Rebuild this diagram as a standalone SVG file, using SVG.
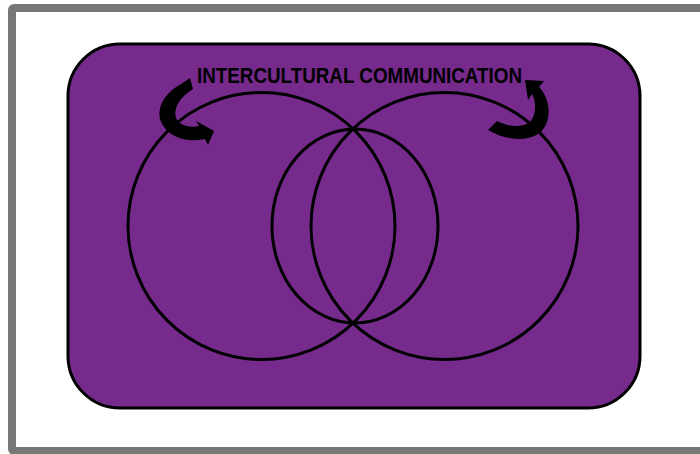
<svg xmlns="http://www.w3.org/2000/svg" width="700" height="454" viewBox="0 0 700 454">
<style>
.ring{fill:none;stroke:#000;stroke-width:3}
.arr{fill:#000;stroke:none}
.title{font-family:"Liberation Sans",Arial,sans-serif;font-weight:bold;font-size:22.5px;fill:#000}
</style>
<rect x="0" y="0" width="700" height="454" fill="#fff"/>
<rect id="frame" x="12" y="8" width="700" height="443" rx="2" fill="#fff" stroke="#777" stroke-width="8"/>
<g id="panel">
<rect x="68" y="44" width="572" height="364" rx="52" fill="#752a8c" stroke="#000" stroke-width="3"/>
</g>
<g id="circle-left"><circle class="ring" cx="261.5" cy="226" r="133.5"/></g>
<g id="circle-right"><circle class="ring" cx="444.5" cy="226" r="133.5"/></g>
<g id="circle-middle"><ellipse class="ring" cx="355" cy="226" rx="83" ry="97"/></g>
<g id="title"><text class="title" x="197" y="82.5" textLength="325" lengthAdjust="spacingAndGlyphs">INTERCULTURAL COMMUNICATION</text></g>
<g id="connectors">
<path class="arr" d="M 214,131 L 208,145 L 205,139 C 188,143 170,138 162,124 C 155,110 163,94 181,84 L 190,78 L 193,89 C 180,97 173,108 176,118 C 180,126 190,128 199,126 L 196,121 Z"/>
<path class="arr" d="M 525,80 L 544,81 L 539,87 C 552,100 552,125 538,134 C 525,142 505,140 488,130 L 497,121 C 508,127 522,128 530,122 C 537,114 536,101 532,94 L 528,100 Z"/>
</g>
</svg>
